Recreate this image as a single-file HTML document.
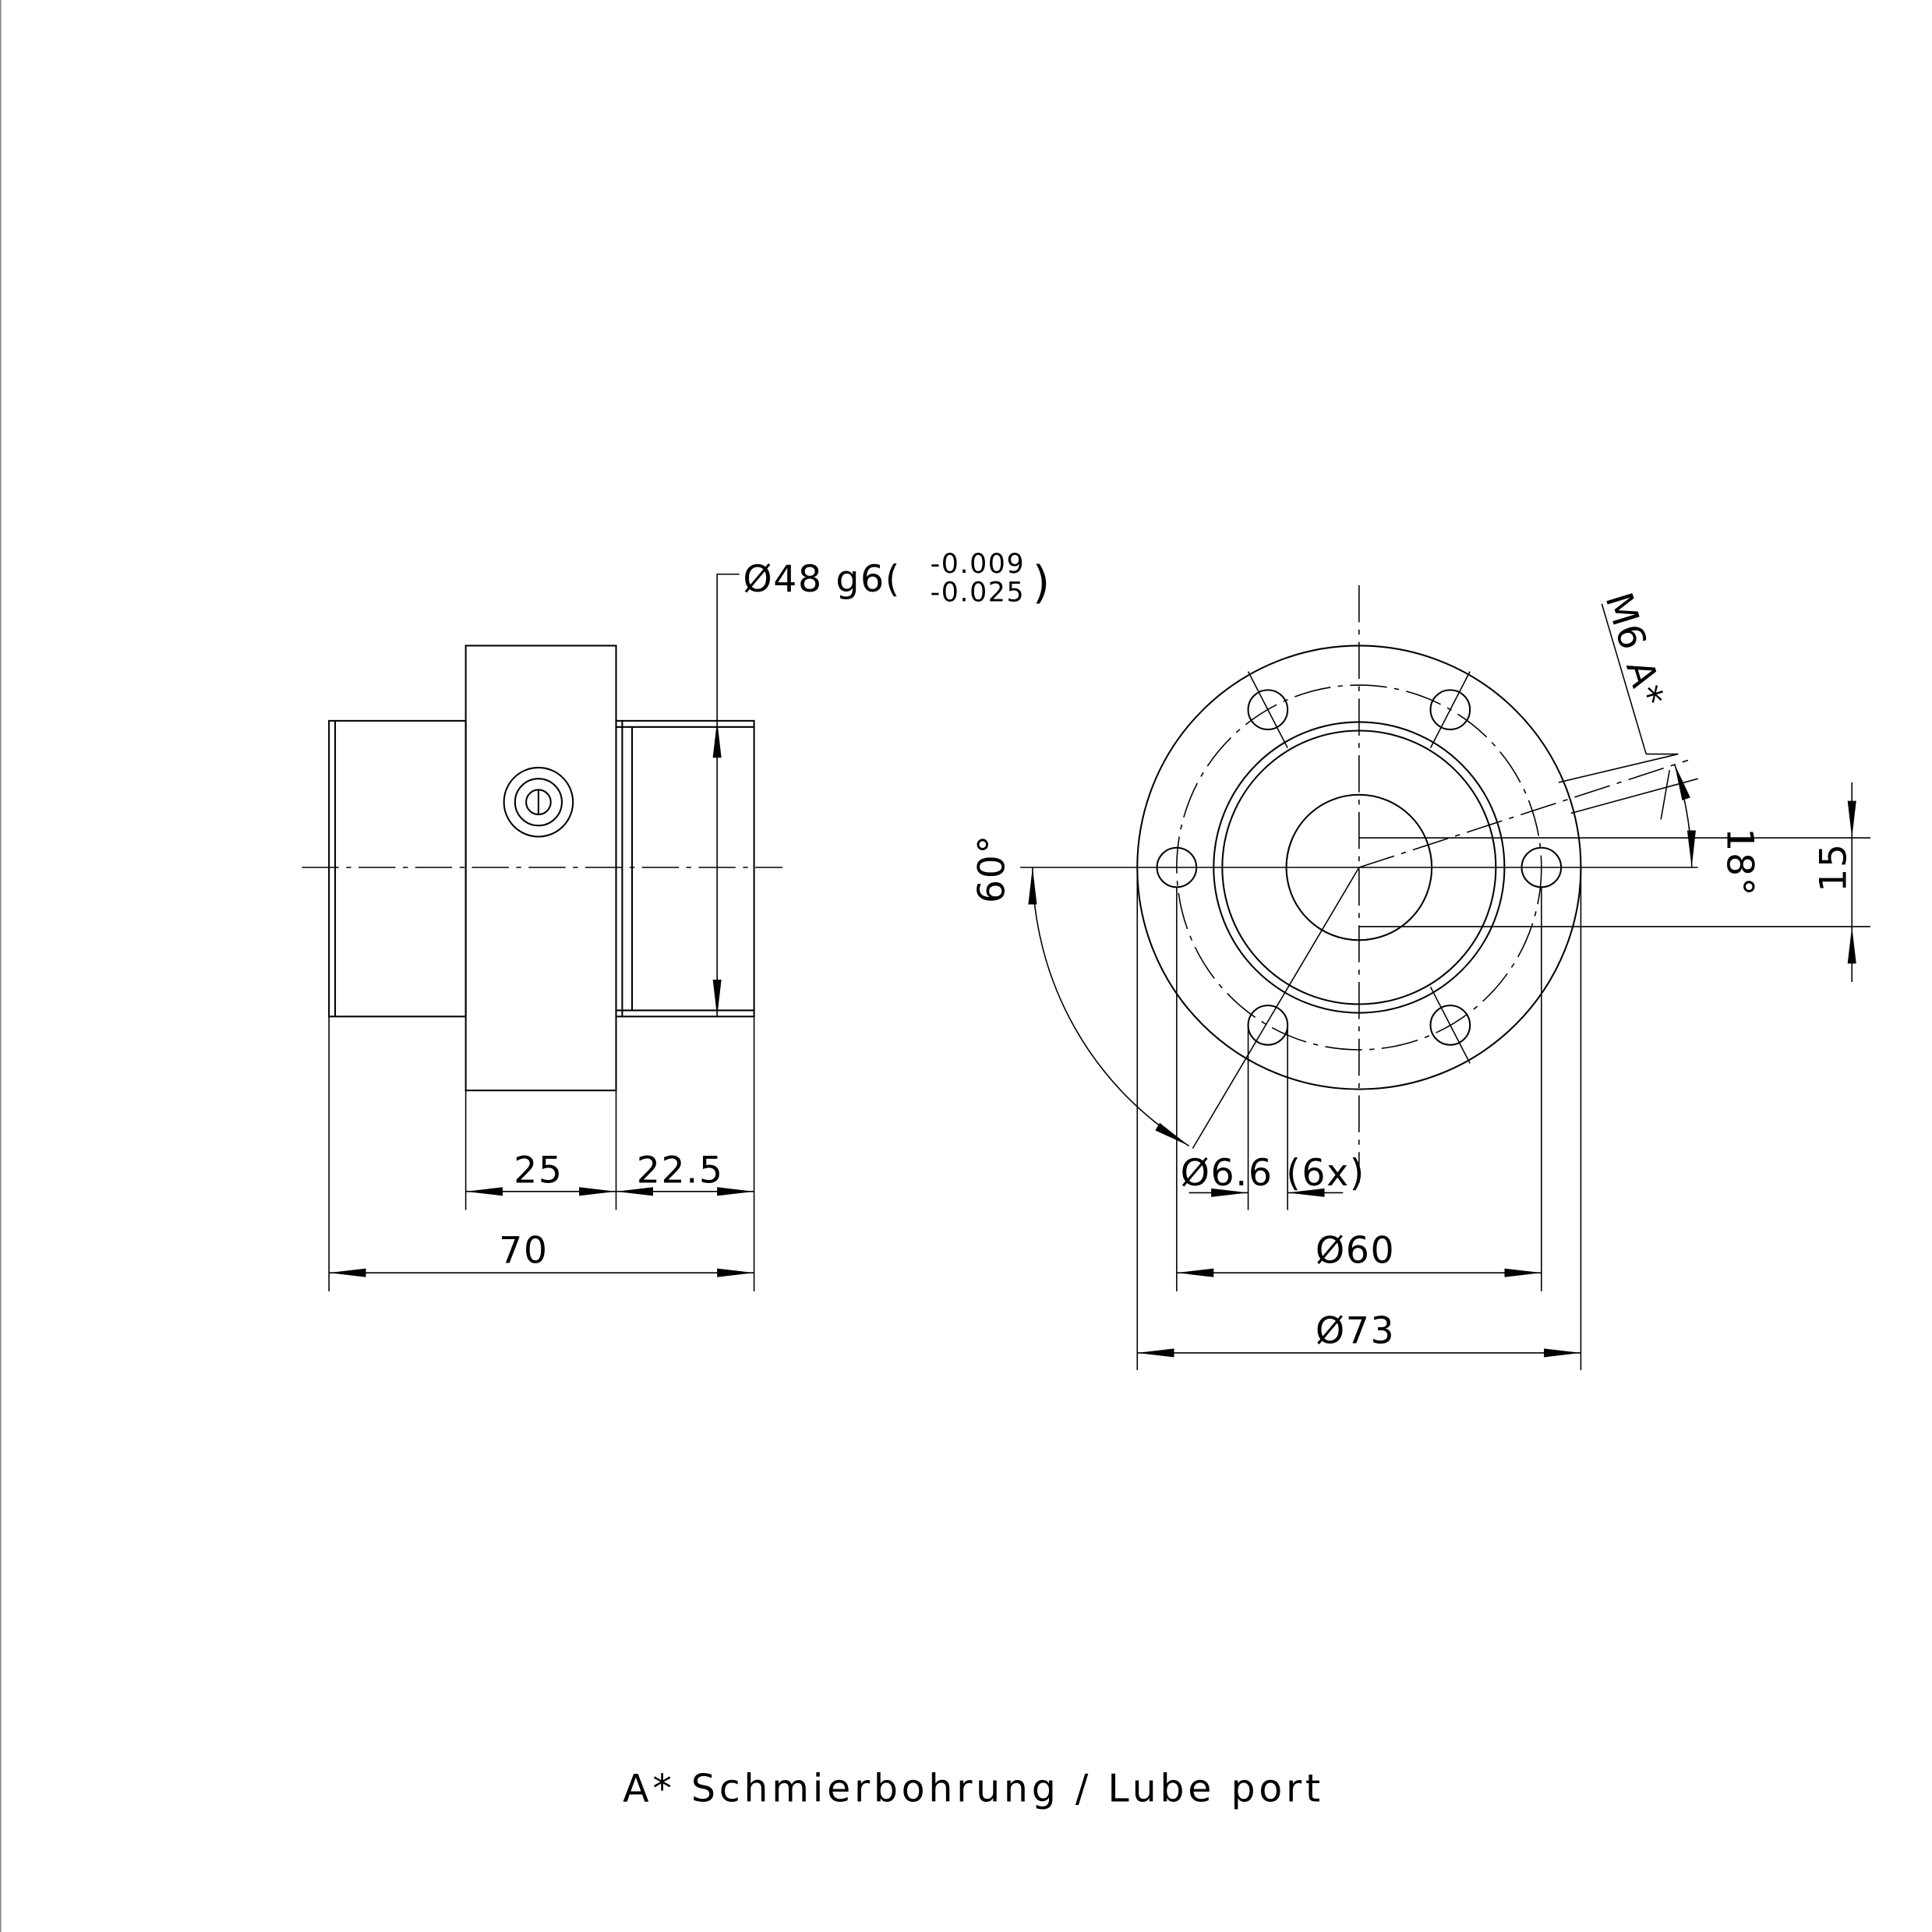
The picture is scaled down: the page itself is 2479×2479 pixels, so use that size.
<!DOCTYPE html>
<html><head><meta charset="utf-8"><style>
html,body{margin:0;padding:0;background:#fff}
svg{display:block}
text{font-family:"DejaVu Sans","Liberation Sans",sans-serif;fill:#000;letter-spacing:1px}
</style></head><body>
<svg width="2479" height="2479" viewBox="0 0 1568 1568" xmlns="http://www.w3.org/2000/svg">
<defs>
<marker id="a" viewBox="0 0 30 10" refX="30" refY="5" markerWidth="30" markerHeight="10" markerUnits="userSpaceOnUse" orient="auto-start-reverse">
<path d="M0,1.5 L30,5 L0,8.5 Z" fill="#000"/></marker>
</defs>
<rect x="0" y="0" width="1568" height="1568" fill="#fff"/>
<line x1="0.5" y1="0" x2="0.5" y2="1568" stroke="#888" stroke-width="1"/>
<g stroke="#000" stroke-width="1.3" fill="none">
<rect x="267" y="585" width="111" height="240"/>
<rect x="378" y="524" width="122" height="361"/>
<rect x="500" y="585" width="112" height="240"/>
<line x1="505" y1="585" x2="505" y2="825"/>
<line x1="513" y1="590" x2="513" y2="820"/>
<line x1="500" y1="590" x2="612" y2="590"/>
<line x1="500" y1="820" x2="612" y2="820"/>
<line x1="272" y1="585" x2="272" y2="825"/>
<circle cx="437" cy="651" r="28"/>
<circle cx="437" cy="651" r="19"/>
<circle cx="437" cy="651" r="10"/>
<line x1="437" y1="641" x2="437" y2="661"/>
<line x1="245" y1="704" x2="635" y2="704" stroke-width="1" stroke-dasharray="30,6,4,6"/>
<line x1="378" y1="885" x2="378" y2="982" stroke-width="1"/>
<line x1="500" y1="885" x2="500" y2="982" stroke-width="1"/>
<line x1="267" y1="825" x2="267" y2="1048" stroke-width="1"/>
<line x1="612" y1="825" x2="612" y2="1048" stroke-width="1"/>
<line x1="378" y1="967" x2="500" y2="967" stroke-width="1" marker-start="url(#a)" marker-end="url(#a)"/>
<line x1="500" y1="967" x2="612" y2="967" stroke-width="1" marker-start="url(#a)" marker-end="url(#a)"/>
<line x1="267" y1="1033" x2="612" y2="1033" stroke-width="1" marker-start="url(#a)" marker-end="url(#a)"/>
<line x1="582" y1="585" x2="582" y2="825" stroke-width="1" marker-start="url(#a)" marker-end="url(#a)"/>
<polyline points="582,585 582,466 600,466" stroke-width="1"/>
<circle cx="1103" cy="704" r="180"/>
<circle cx="1103" cy="704" r="148" stroke-width="1" stroke-dasharray="30,6,4,6"/>
<circle cx="1103" cy="704" r="118"/>
<circle cx="1103" cy="704" r="111"/>
<circle cx="1103" cy="704" r="59"/>
<circle cx="1251" cy="704" r="16"/>
<circle cx="955" cy="704" r="16"/>
<circle cx="1177" cy="576" r="16"/>
<circle cx="1029" cy="576" r="16"/>
<circle cx="1029" cy="832" r="16"/>
<circle cx="1177" cy="832" r="16"/>
<g stroke-width="1">
<line x1="1103" y1="475" x2="1103" y2="960" stroke-dasharray="30,6,4,6"/>
<line x1="828" y1="704" x2="1378" y2="704"/>
<line x1="1013" y1="545" x2="1045" y2="607"/>
<line x1="1193" y1="545" x2="1161" y2="607"/>
<line x1="1161" y1="801" x2="1193" y2="863"/>
<line x1="1103" y1="704" x2="968" y2="932"/>
<line x1="1103" y1="704" x2="1370" y2="617" stroke-dasharray="30,6,4,6"/>
<line x1="1103" y1="680" x2="1518" y2="680"/>
<line x1="1103" y1="752" x2="1518" y2="752"/>
<line x1="1503" y1="635" x2="1503" y2="680" marker-end="url(#a)"/>
<line x1="1503" y1="797" x2="1503" y2="752" marker-end="url(#a)"/>
<line x1="1503" y1="680" x2="1503" y2="752"/>
<path d="M1373,704 A270,270 0 0 0 1359,620" marker-start="url(#a)" marker-end="url(#a)"/>
<path d="M838,704 A265,265 0 0 0 965,930" marker-start="url(#a)" marker-end="url(#a)"/>
<line x1="1265" y1="635" x2="1362" y2="612"/>
<line x1="1275" y1="660" x2="1378" y2="632"/>
<line x1="1300" y1="490" x2="1336" y2="612"/>
<line x1="1362" y1="612" x2="1336" y2="612"/>
<line x1="1348" y1="665" x2="1355" y2="625" />
<line x1="1013" y1="832" x2="1013" y2="982"/>
<line x1="1045" y1="832" x2="1045" y2="982"/>
<line x1="965" y1="968" x2="1013" y2="968" marker-end="url(#a)"/>
<line x1="1090" y1="968" x2="1045" y2="968" marker-end="url(#a)"/>
<line x1="955" y1="720" x2="955" y2="1048"/>
<line x1="1251" y1="720" x2="1251" y2="1048"/>
<line x1="923" y1="704" x2="923" y2="1112"/>
<line x1="1283" y1="704" x2="1283" y2="1112"/>
<line x1="955" y1="1033" x2="1251" y2="1033" marker-start="url(#a)" marker-end="url(#a)"/>
<line x1="923" y1="1098" x2="1283" y2="1098" marker-start="url(#a)" marker-end="url(#a)"/>
</g>
</g>
<g font-size="30">
<text x="437" y="960" text-anchor="middle">25</text>
<text x="552" y="960" text-anchor="middle">22.5</text>
<text x="425" y="1025" text-anchor="middle">70</text>
<text x="603" y="480">Ø48 g6(</text>
<text x="755" y="465" font-size="22">-0.009</text>
<text x="755" y="488" font-size="22">-0.025</text>
<text x="838" y="485" font-size="36">)</text>
<text x="958" y="962">Ø6.6 (6x)</text>
<text x="1100" y="1025" text-anchor="middle">Ø60</text>
<text x="1100" y="1090" text-anchor="middle">Ø73</text>
<text transform="translate(815,705) rotate(-90)" text-anchor="middle">60°</text>
<text transform="translate(1402,700) rotate(90)" text-anchor="middle">18°</text>
<text transform="translate(1498,704) rotate(-90)" text-anchor="middle">15</text>
<text transform="translate(1303,485) rotate(73)">M6 A*</text>
<text x="790" y="1462" text-anchor="middle" font-size="31" style="letter-spacing:3px">A* Schmierbohrung / Lube port</text>
</g>
</svg>
</body></html>
